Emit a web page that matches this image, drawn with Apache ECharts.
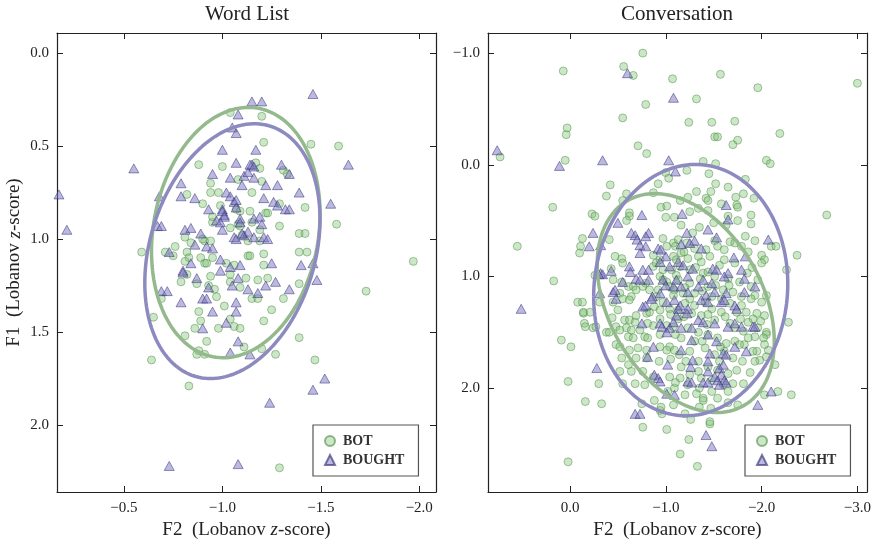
<!DOCTYPE html>
<html>
<head>
<meta charset="utf-8">
<script src="https://cdn.jsdelivr.net/npm/echarts@6/dist/echarts.min.js"></script>
<style>
  html, body { margin: 0; padding: 0; background: #fff; }
  #chart { width: 873px; height: 542px; }
</style>
</head>
<body>
<div id="chart"></div>
<script>
// Word List panel: [F2, F1] in Lobanov z-scores
const wordBot = [
  [-1.04,0.32],[-1.20,0.34],[-1.21,0.48],[-1.45,0.49],[-1.59,0.50],[-0.88,0.60],[-1.00,0.61],[-1.17,0.59],
  [-1.19,0.62],[-0.94,0.70],[-1.08,0.68],[-1.20,0.69],[-1.31,0.63],[-1.33,0.65],[-0.94,0.75],[-0.98,0.75],
  [-0.82,0.76],[-0.90,0.81],[-0.99,0.82],[-1.07,0.84],[-1.09,0.85],[-1.14,0.85],[-1.22,0.86],[-1.23,0.86],
  [-1.29,0.81],[-1.42,0.83],[-1.58,0.92],[-1.15,0.75],[-1.29,0.93],[-1.39,0.97],[-1.42,0.97],[-0.95,0.91],
  [-1.04,0.94],[-1.08,0.92],[-1.15,0.91],[-1.10,0.98],[-1.19,0.95],[-0.91,1.01],[-0.94,1.01],[-0.81,0.99],
  [-0.90,1.00],[-0.59,1.07],[-0.76,1.04],[-0.71,1.07],[-0.75,1.09],[-0.82,1.07],[-0.83,1.10],[-0.89,1.10],
  [-0.95,1.10],[-1.02,1.13],[-1.06,1.14],[-1.13,1.09],[-1.21,1.08],[-1.21,1.14],[-1.39,1.07],[-1.43,1.07],
  [-1.97,1.12],[-0.91,1.13],[-0.82,1.19],[-0.79,1.23],[-0.87,1.24],[-0.94,1.20],[-1.04,1.19],[-1.04,1.23],
  [-1.09,1.26],[-1.12,1.21],[-1.18,1.22],[-1.23,1.21],[-1.39,1.24],[-0.96,1.27],[-0.97,1.31],[-1.15,1.32],
  [-1.18,1.32],[-1.31,1.32],[-0.69,1.32],[-1.73,1.28],[-1.01,1.36],[-1.25,1.38],[-0.88,1.39],[-0.65,1.42],
  [-0.89,1.44],[-1.04,1.43],[-0.86,1.48],[-0.98,1.48],[-1.06,1.47],[-1.09,1.48],[-1.21,1.44],[-0.81,1.52],
  [-0.92,1.55],[-1.39,1.53],[-1.11,1.58],[-0.88,1.60],[-0.87,1.62],[-0.91,1.62],[-1.20,1.59],[-1.27,1.62],
  [-0.64,1.65],[-1.47,1.65],[-0.83,1.79],[-1.29,2.23],[-0.81,1.12],[-0.92,1.13],[-0.93,1.25],[-0.95,0.88],
  [-1.14,1.09],[-1.09,0.93],[-1.13,1.01],[-1.19,1.01],[-0.84,1.02]
];
const wordBought = [
  [-1.46,0.22],[-1.15,0.26],[-1.20,0.26],[-1.08,0.33],[-1.05,0.40],[-1.07,0.43],[-1.00,0.52],[-1.17,0.52],
  [-0.55,0.62],[-1.64,0.60],[-1.07,0.59],[-1.15,0.60],[-1.30,0.60],[-1.34,0.65],[-0.95,0.65],[-1.04,0.67],
  [-1.11,0.66],[-1.13,0.64],[-1.16,0.67],[-0.79,0.70],[-1.10,0.71],[-1.22,0.71],[-1.28,0.71],[-0.17,0.76],
  [-0.68,0.77],[-0.79,0.77],[-0.86,0.78],[-1.02,0.75],[-1.04,0.77],[-1.06,0.80],[-1.21,0.78],[-1.26,0.80],
  [-1.28,0.82],[-1.32,0.84],[-1.34,0.84],[-1.39,0.75],[-1.55,0.81],[-0.93,0.84],[-1.00,0.84],[-1.01,0.87],
  [-0.97,0.90],[-1.09,0.89],[-1.16,0.89],[-1.19,0.88],[-1.20,0.92],[-0.67,0.93],[-0.69,0.93],[-0.21,0.95],
  [-0.81,0.95],[-0.84,0.94],[-0.89,0.97],[-1.00,0.95],[-1.06,0.99],[-1.11,0.98],[-1.13,0.96],[-1.16,0.99],
  [-1.21,0.99],[-1.23,1.00],[-0.86,1.03],[-0.92,1.04],[-0.95,1.05],[-0.73,1.07],[-1.40,1.14],[-1.46,1.13],
  [-0.99,1.11],[-1.04,1.15],[-1.09,1.14],[-1.25,1.13],[-0.80,1.17],[-0.84,1.13],[-0.80,1.18],[-0.87,1.21],
  [-0.93,1.26],[-0.90,1.32],[-0.92,1.32],[-1.05,1.25],[-1.08,1.21],[-0.99,1.17],[-1.13,1.27],[-1.18,1.29],
  [-1.22,1.25],[-1.27,1.23],[-1.34,1.27],[-1.48,1.22],[-0.69,1.28],[-0.72,1.28],[-0.79,1.34],[-1.07,1.34],
  [-0.95,1.39],[-1.07,1.39],[-0.90,1.48],[-1.02,1.45],[-1.08,1.55],[-1.04,1.61],[-1.14,1.62],[-1.52,1.75],
  [-1.46,1.81],[-1.24,1.88],[-0.73,2.22],[-1.08,2.21],[-1.00,0.85],[-1.01,0.88],[-0.99,0.91],[-1.07,0.79],
  [-1.07,0.83],[-1.14,0.60],[-1.16,0.61],[-1.09,0.91],[-1.10,0.97],[-1.07,1.00]
];

// Conversation panel
const convBot = [
  [-0.76,-1.00],[0.07,-0.84],[-0.56,-0.88],[-0.66,-0.80],[-1.07,-0.77],[-1.57,-0.81],[-1.96,-0.69],[-3.00,-0.73],
  [-1.32,-0.59],[-0.79,-0.54],[-0.55,-0.42],[-1.24,-0.38],[-1.48,-0.38],[-1.72,-0.39],[0.03,-0.33],[0.04,-0.27],
  [-2.19,-0.28],[-1.51,-0.25],[-1.54,-0.25],[-1.75,-0.22],[-1.70,-0.18],[-0.71,-0.17],[-0.80,-0.10],[0.73,-0.07],
  [0.05,-0.04],[-2.05,-0.04],[-2.09,-0.01],[-1.39,-0.03],[-1.52,-0.01],[-1.00,0.07],[-1.03,0.12],[-1.22,0.05],
  [-1.45,0.08],[-1.83,0.13],[0.18,0.38],[-2.68,0.45],[-2.37,0.81],[0.55,0.73],
  [0.17,1.04],[-0.14,1.33],[0.02,2.66],[-0.76,2.35],[-1.01,2.37],[-1.24,2.46],[-1.15,2.59],[-1.33,2.70],
  [-1.46,2.32],[-2.28,1.41],[-1.39,2.09],[-0.94,2.20],[-0.96,2.23],[-1.95,1.33],[-2.05,1.50],[-2.05,1.52],
  [-1.98,1.75],[-2.07,1.66],
  [-0.42,0.18],[-0.38,0.28],[-0.59,0.26],[-0.55,0.32],[-0.23,0.44],[-0.26,0.46],[-0.62,0.43],[-0.62,0.46],
  [-0.59,0.50],[-0.87,0.25],[-0.92,0.17],[-0.95,0.38],[-1.01,0.37],[-1.00,0.47],[-1.09,0.47],[-0.13,0.66],
  [-0.11,0.73],[-0.41,0.67],[-0.10,0.79],[-0.47,0.82],[-0.54,0.84],[-0.55,0.88],[-0.43,0.93],[-0.26,0.99],
  [-0.45,1.03],[-0.54,1.05],[-0.61,1.09],[-0.66,1.09],[-0.79,1.06],[-0.76,1.09],[-0.87,0.91],[-0.90,0.88],
  [-0.94,0.85],[-0.87,0.81],[-0.97,0.66],[-1.01,0.73],[-1.08,0.70],[-1.10,0.73],[-0.94,1.00],[-0.97,1.03],
  [-1.01,1.05],[-1.04,1.09],[-1.09,1.12],[-0.83,1.12],[-0.92,1.12],[-0.69,1.12],[-0.64,1.18],[-0.52,1.15],
  [-0.90,1.18],[-1.08,1.17],[-0.97,0.94],[-1.06,0.94],[-1.11,0.99],[-1.08,0.82],[-1.11,0.85],
  [-1.52,0.17],[-1.65,0.20],[-1.32,0.24],[-1.47,0.24],[-1.73,0.29],[-1.81,0.26],[-1.92,0.30],[-1.42,0.30],
  [-1.44,0.32],[-1.15,0.32],[-1.23,0.29],[-1.74,0.36],[-1.75,0.38],[-1.58,0.35],[-1.34,0.39],[-1.44,0.41],
  [-1.25,0.42],[-1.89,0.45],[-1.65,0.46],[-1.75,0.50],[-1.50,0.52],[-1.89,0.53],[-1.16,0.54],[-1.35,0.56],
  [-1.63,0.54],[-1.83,0.64],[-1.93,0.68],[-2.10,0.73],[-2.15,0.73],[-2.00,0.81],[-2.03,0.85],[-2.00,0.88],
  [-1.90,0.92],[-2.26,0.94],[-1.67,0.69],[-1.72,0.70],[-1.51,0.68],[-1.54,0.73],[-1.61,0.76],[-1.79,0.73],
  [-1.86,0.78],[-1.42,0.76],[-1.46,0.82],[-1.37,0.87],[-1.61,0.85],[-1.72,0.88],[-1.85,0.97],[-1.96,1.03],
  [-1.89,1.09],[-1.28,0.61],[-1.13,0.67],[-1.22,0.70],[-1.30,0.75],[-1.16,0.79],[-1.23,0.84],[-1.34,0.82],
  [-1.15,0.91],[-1.25,0.94],[-1.39,0.97],[-1.51,1.00],[-1.65,1.02],[-1.77,1.05],[-1.13,1.03],[-1.25,1.06],
  [-1.44,1.09],[-1.60,1.12],[-1.70,1.14],[-1.79,1.18],[-1.93,1.17],[-2.05,1.17],[-1.30,1.15],[-1.18,1.15],
  [-0.08,1.23],[-0.13,1.23],[-0.14,1.32],[-0.21,1.32],[-0.31,1.23],[-0.45,1.23],[-0.55,1.20],[-0.62,1.21],
  [-0.50,1.30],[-0.44,1.37],[-0.57,1.39],[-0.62,1.39],[-0.68,1.41],[-0.69,1.35],[-0.80,1.33],[-0.83,1.32],
  [-0.15,1.42],[-0.16,1.45],[-0.24,1.46],[-0.27,1.45],[-0.38,1.50],[-0.41,1.50],[-0.48,1.45],[-0.52,1.48],
  [-0.59,1.46],[-0.64,1.48],[-0.73,1.48],[-0.78,1.54],[-0.81,1.55],[-0.61,1.54],[-0.66,1.55],[-0.48,1.61],
  [-0.52,1.63],[-0.62,1.66],[-0.71,1.64],[-0.80,1.66],[-0.94,1.52],[-0.94,1.63],[-1.04,1.63],[-1.01,1.66],
  [-1.09,1.66],[0.09,1.57],[-0.01,1.63],[-0.54,1.73],[-0.69,1.73],[-0.80,1.73],[-0.61,1.79],[-0.52,1.85],
  [-0.64,1.85],[-0.76,1.85],[-0.87,1.90],[0.02,1.94],[-0.30,1.96],[-0.55,1.96],[-0.68,1.96],[-0.78,1.97],
  [-1.04,1.90],[-0.16,2.12],[-0.33,2.14],[-0.75,2.14],[-0.88,2.11],[-0.95,2.17],[-1.08,2.15],[-1.02,2.03],
  [-1.09,2.00],[-0.97,1.23],[-1.04,1.29],[-0.94,1.38],[-1.01,1.44],[-1.08,1.45],[-1.13,1.38],[-0.88,1.27],
  [-0.94,1.30],[-0.87,1.44],[-0.81,1.42],
  [-1.89,1.20],[-2.00,1.23],[-2.03,1.35],[-1.99,1.40],[-1.91,1.38],[-1.84,1.32],[-1.74,1.32],[-1.79,1.26],
  [-1.67,1.24],[-1.58,1.32],[-1.48,1.29],[-1.41,1.23],[-1.30,1.26],[-1.20,1.24],[-1.13,1.30],[-1.27,1.33],
  [-1.37,1.35],[-1.51,1.39],[-1.67,1.42],[-1.72,1.46],[-1.81,1.49],[-1.96,1.46],[-2.02,1.55],[-2.03,1.61],
  [-1.95,1.67],[-1.93,1.76],[-2.05,1.72],[-2.14,1.79],[-1.91,1.67],[-1.82,1.61],[-1.72,1.58],[-1.77,1.61],
  [-1.63,1.60],[-1.61,1.67],[-1.54,1.55],[-1.44,1.52],[-1.34,1.50],[-1.23,1.46],[-1.16,1.55],[-1.30,1.58],
  [-1.41,1.64],[-1.51,1.70],[-1.70,1.73],[-1.80,1.76],[-1.25,1.67],[-1.14,1.70],[-1.34,1.76],[-1.44,1.81],
  [-1.54,1.84],[-1.65,1.87],[-1.74,1.84],[-1.16,1.81],[-1.25,1.88],[-1.37,1.91],[-1.48,1.93],[-1.60,1.97],
  [-1.70,1.96],[-1.81,1.96],[-1.65,2.03],[-1.48,2.03],[-1.35,2.00],[-1.23,1.97],[-1.15,1.91],[-1.32,2.05],
  [-1.20,2.06],[-1.39,2.11],[-1.54,2.09],[-1.75,2.15],[-1.65,2.13],[-1.35,2.17],[-1.47,2.18],[-1.20,2.23],
  [-1.26,2.28],[-1.46,2.30],[-2.31,2.06],[-2.17,2.03],[-2.03,2.06],[-1.93,1.54],
  [-1.19,0.78],[-1.31,0.92],[-1.44,0.96],[-1.56,0.90],[-1.36,1.02],[-1.20,1.10],[-1.52,1.08],[-1.66,1.08],
  [-1.38,1.13],[-1.48,1.18],[-1.58,1.20],[-1.25,1.20],[-1.05,1.34],[-1.19,1.36],[-1.44,1.34],[-1.62,1.36],
  [-1.86,1.41],[-1.10,1.52],[-1.38,1.58],[-1.57,1.63],[-1.86,1.55],[-1.05,1.74],[-1.21,1.76],[-1.56,1.76],
  [-1.34,1.85],[-1.88,1.86],[-0.93,1.76],[-1.10,1.95],[-1.43,1.43],[-1.78,1.38]
];
const convBought = [
  [-0.60,-0.82],[-1.08,-0.60],[0.76,-0.13],[0.11,0.01],[-0.34,-0.04],[-1.03,-0.04],[-1.10,0.06],[0.51,1.29],
  [-1.42,2.42],[-1.48,2.52],[-0.32,0.97],[-0.45,1.14],[-1.26,1.81],[-1.51,1.90],[-1.56,1.82],
  [-0.75,0.45],[-0.50,0.52],[-0.24,0.61],[-0.20,0.73],[-0.32,0.72],[-0.64,0.61],[-0.68,0.63],[-0.70,0.67],
  [-0.82,0.61],[-0.79,0.64],[-0.73,0.72],[-0.79,0.73],[-0.73,0.79],[-0.62,0.91],[-0.63,0.96],[-0.76,0.94],
  [-0.82,0.94],[-0.43,0.95],[-0.34,0.98],[-0.30,0.98],[-0.55,1.05],[-0.69,1.02],[-0.73,1.03],[-0.82,1.03],
  [-0.92,0.75],[-0.95,0.76],[-1.00,0.82],[-0.94,0.87],[-1.04,0.91],[-0.97,1.03],[-1.00,1.08],[-1.08,1.09],
  [-0.31,1.15],[-0.47,1.12],[-0.86,1.18],[-0.94,1.15],[-1.11,1.03],
  [-1.17,0.44],[-1.63,0.36],[-1.65,0.49],[-1.44,0.58],[-1.22,0.61],[-1.30,0.68],[-1.37,0.75],[-1.16,0.71],
  [-1.25,0.70],[-1.53,0.65],[-1.71,0.83],[-1.83,0.82],[-2.07,0.67],[-1.13,0.87],[-1.18,0.90],[-1.28,0.93],
  [-1.49,0.93],[-1.53,0.94],[-1.65,0.97],[-1.79,0.94],[-1.82,1.02],[-1.39,1.03],[-1.61,1.00],[-1.23,1.00],
  [-1.16,1.09],[-1.34,1.09],[-1.48,1.06],[-1.51,1.14],[-1.63,1.15],[-1.93,1.09],[-1.82,1.14],[-1.23,1.14],
  [-1.42,1.17],
  [-0.48,1.20],[-0.76,1.27],[-0.79,1.26],[-0.75,1.42],[-0.94,1.42],[-0.96,1.45],[-1.04,1.46],[-1.01,1.50],
  [-1.08,1.41],[-0.87,1.63],[-0.81,1.72],[-1.02,1.79],[-0.28,1.82],[-0.88,1.88],[-0.92,1.91],[-0.94,1.94],
  [-1.01,2.05],[-1.09,2.06],[-0.68,2.23],[-0.73,2.23],[-0.85,1.20],[-1.01,1.23],[-1.09,1.21],[-1.13,1.29],
  [-1.11,1.35],
  [-1.15,1.26],[-1.23,1.29],[-1.37,1.21],[-1.44,1.23],[-1.58,1.23],[-1.61,1.21],[-1.72,1.26],[-1.74,1.29],
  [-1.22,1.33],[-1.34,1.39],[-1.39,1.41],[-1.51,1.42],[-1.65,1.45],[-1.79,1.45],[-1.91,1.45],[-1.16,1.46],
  [-1.27,1.46],[-1.44,1.52],[-1.53,1.58],[-1.72,1.63],[-1.84,1.67],[-1.60,1.69],[-1.63,1.70],[-1.46,1.69],
  [-1.27,1.57],[-1.16,1.66],[-1.28,1.75],[-1.44,1.76],[-1.60,1.79],[-1.58,1.88],[-1.54,1.93],[-1.44,1.85],
  [-1.23,1.94],[-1.27,1.95],[-1.39,1.95],[-1.44,1.95],[-1.61,1.93],[-1.63,1.95],[-1.56,1.97],[-1.72,1.42],
  [-1.93,1.45],[-2.10,2.03],[-1.96,2.15]
];

// ellipses: [centre F2, centre F1, half width, half height, correlation]
const wordBotEllipse = [-1.068, 0.965, 0.428, 0.673, 0.15];
const wordBoughtEllipse = [-1.051, 1.065, 0.445, 0.685, 0.25];
const convBotEllipse = [-1.208, 1.238, 0.924, 0.980, -0.35];
const convBoughtEllipse = [-1.260, 1.122, 1.013, 1.125, 0.05];

const wordXRange = [-2.085, -0.16];
const wordYRange = [-0.108, 2.36];
const convXRange = [-3.1, 0.856];
const convYRange = [-1.18, 2.93];
const wordXTicks = [-0.5, -1.0, -1.5, -2.0];
const wordYTicks = [0.0, 0.5, 1.0, 1.5, 2.0];
const convXTicks = [0.0, -1.0, -2.0, -3.0];
const convYTicks = [-1.0, 0.0, 1.0, 2.0];

const FONT = 'Liberation Serif';
const INK = '#222';
const GREEN = { color: 'rgba(128,192,118,0.5)', borderColor: 'rgba(72,138,62,0.75)', borderWidth: 0.8 };
const PURPLE = { color: 'rgba(118,114,190,0.62)', borderColor: 'rgba(50,46,120,0.8)', borderWidth: 0.8 };
const GREEN_LINE = '#93b98d';
const PURPLE_LINE = '#8d8ac0';

const fmt = (v) => (v < 0 ? '\u2212' : '') + Math.abs(v).toFixed(1);

const ellipsePoints = (p) => {
  const [cx, cy, hw, hh, r] = p;
  const pts = [];
  for (let i = 0; i <= 160; i++) {
    const t = (i / 160) * Math.PI * 2;
    pts.push([cx + hw * Math.cos(t), cy + hh * (r * Math.cos(t) + Math.sqrt(1 - r * r) * Math.sin(t))]);
  }
  return pts;
};

const axisName = (label) => label + '\u2002(Lobanov {i|z}-score)';
const nameStyle = {
  fontFamily: FONT, fontSize: 19, color: INK,
  rich: { i: { fontFamily: FONT, fontSize: 19, fontStyle: 'italic', color: INK } },
};

const xAxisFor = (gridIndex, range, ticks, top) => ({
  type: 'value', gridIndex, position: top ? 'top' : 'bottom',
  min: range[0], max: range[1], inverse: true,
  name: top ? '' : axisName('F2'), nameLocation: 'middle', nameGap: 26, nameTextStyle: nameStyle,
  axisLine: { show: true, onZero: false, lineStyle: { color: INK, width: 1.2 } },
  axisTick: { show: true, inside: true, length: 6, customValues: ticks, lineStyle: { color: INK } },
  axisLabel: { show: !top, customValues: ticks, formatter: fmt, margin: 9, fontFamily: FONT, fontSize: 15, color: INK },
  splitLine: { show: false },
});

const yAxisFor = (gridIndex, range, ticks, right, name) => ({
  type: 'value', gridIndex, position: right ? 'right' : 'left',
  min: range[0], max: range[1], inverse: true,
  name: name ? axisName('F1') : '', nameLocation: 'middle', nameGap: 33, nameTextStyle: nameStyle,
  axisLine: { show: true, onZero: false, lineStyle: { color: INK, width: 1.2 } },
  axisTick: { show: true, inside: true, length: 6, customValues: ticks, lineStyle: { color: INK } },
  axisLabel: { show: !right, customValues: ticks, formatter: fmt, margin: 8, fontFamily: FONT, fontSize: 15, color: INK },
  splitLine: { show: false },
});

const scatter = (name, data, idx, style, symbol, size) => ({
  type: 'scatter', name, data, xAxisIndex: idx * 2, yAxisIndex: idx * 2,
  symbol, symbolSize: size, itemStyle: style, silent: true, z: 2,
});

const ring = (name, p, idx, color) => ({
  type: 'line', name, data: ellipsePoints(p), xAxisIndex: idx * 2, yAxisIndex: idx * 2,
  showSymbol: false, silent: true, z: 3,
  lineStyle: { color, width: 3.5 },
});

const legendAt = (left) => ({
  left, top: 425, orient: 'vertical',
  data: [{ name: 'BOT', icon: 'circle' }, { name: 'BOUGHT', icon: 'triangle' }],
  itemWidth: 10, itemHeight: 10, itemGap: 5,
  padding: [9, 14, 9, 11],
  borderColor: '#555', borderWidth: 1.2, borderRadius: 0, backgroundColor: '#fff',
  selectedMode: false,
  textStyle: { fontFamily: FONT, fontSize: 14, fontWeight: 'bold', color: '#333', padding: [0, 0, 0, 3] },
});

const chart = echarts.init(document.getElementById('chart'));
chart.setOption({
  animation: false,
  backgroundColor: '#fff',
  title: [
    { text: 'Word List', left: 247, top: 4, padding: 0, textAlign: 'center',
      textStyle: { fontFamily: FONT, fontSize: 21, fontWeight: 'normal', color: INK } },
    { text: 'Conversation', left: 677, top: 4, padding: 0, textAlign: 'center',
      textStyle: { fontFamily: FONT, fontSize: 21, fontWeight: 'normal', color: INK } },
  ],
  legend: [legendAt(313), legendAt(745)],
  grid: [
    { left: 57, top: 33, width: 379, height: 459, outerBoundsMode: 'none' },
    { left: 488, top: 33, width: 379, height: 459, outerBoundsMode: 'none' },
  ],
  xAxis: [
    xAxisFor(0, wordXRange, wordXTicks, false),
    xAxisFor(0, wordXRange, wordXTicks, true),
    xAxisFor(1, convXRange, convXTicks, false),
    xAxisFor(1, convXRange, convXTicks, true),
  ],
  yAxis: [
    yAxisFor(0, wordYRange, wordYTicks, false, true),
    yAxisFor(0, wordYRange, wordYTicks, true, false),
    yAxisFor(1, convYRange, convYTicks, false, false),
    yAxisFor(1, convYRange, convYTicks, true, false),
  ],
  series: [
    scatter('BOT', wordBot, 0, GREEN, 'circle', 8),
    scatter('BOUGHT', wordBought, 0, PURPLE, 'triangle', [10, 9]),
    ring('BOT ellipse', wordBotEllipse, 0, GREEN_LINE),
    ring('BOUGHT ellipse', wordBoughtEllipse, 0, PURPLE_LINE),
    scatter('BOT', convBot, 1, GREEN, 'circle', 8),
    scatter('BOUGHT', convBought, 1, PURPLE, 'triangle', [10, 9]),
    ring('BOT ellipse', convBotEllipse, 1, GREEN_LINE),
    ring('BOUGHT ellipse', convBoughtEllipse, 1, PURPLE_LINE),
  ],
});
</script>
</body>
</html>
